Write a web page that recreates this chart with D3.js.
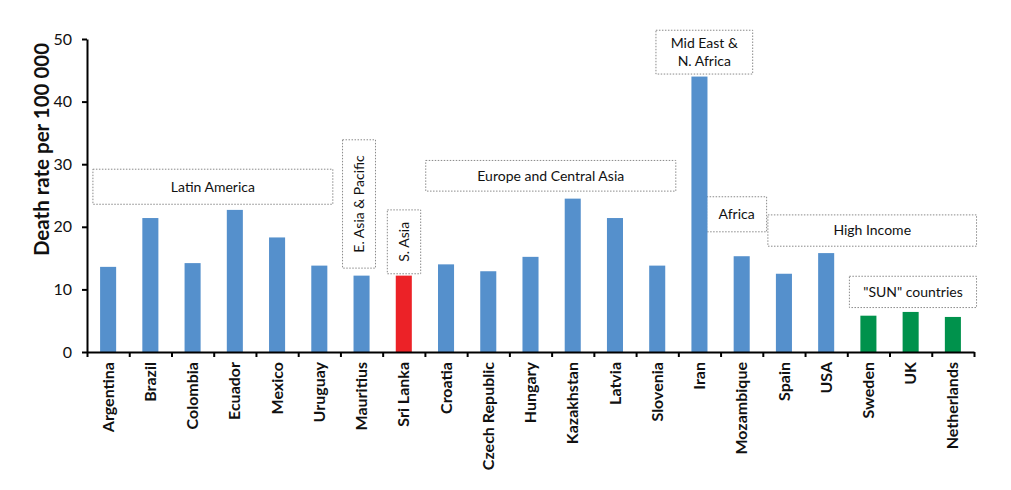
<!DOCTYPE html>
<html>
<head>
<meta charset="utf-8">
<script src="https://cdn.jsdelivr.net/npm/d3@7"></script>
<style>
  body { margin: 0; background: #fff; }
  svg { display: block; font-family: Lato, "Open Sans", sans-serif; }
</style>
</head>
<body>
<div id="chart"></div>
<script>
// data
var countries = ["Argentina", "Brazil", "Colombia", "Ecuador", "Mexico", "Uruguay", "Mauritius",
  "Sri Lanka", "Croatia", "Czech Republic", "Hungary", "Kazakhstan", "Latvia", "Slovenia",
  "Iran", "Mozambique", "Spain", "USA", "Sweden", "UK", "Netherlands"];
var deathRates = [13.6, 21.4, 14.2, 22.7, 18.3, 13.8, 12.2,
  12.2, 14.0, 12.9, 15.2, 24.5, 21.4, 13.8,
  44.0, 15.3, 12.5, 15.8, 5.8, 6.4, 5.6];
// which bars are highlighted
var barGroup = ["base", "base", "base", "base", "base", "base", "base",
  "sriLanka", "base", "base", "base", "base", "base", "base",
  "base", "base", "base", "base", "sun", "sun", "sun"];
var yTicks = [0, 10, 20, 30, 40, 50];

// region labels, in category index / value units
var regionNames = [["Latin America"], ["E. Asia & Pacific"], ["S. Asia"], ["Europe and Central Asia"],
  ["Mid East &", "N. Africa"], ["Africa"], ["High Income"], ["\"SUN\" countries"]];
var regionX0 = [0.14, 6.05, 7.11, 8.02, 13.47, 14.67, 16.12, 18.05];
var regionX1 = [5.82, 6.83, 7.90, 13.94, 15.76, 16.09, 21.06, 21.06];
var regionY0 = [23.6, 13.4, 12.5, 25.7, 44.4, 19.2, 16.9, 7.1];
var regionY1 = [29.2, 33.9, 22.7, 30.6, 51.4, 24.8, 21.9, 12.1];
var regionVertical = [false, true, true, false, false, false, false, false];

var barColor = { base: "#5590cc", sriLanka: "#ec2227", sun: "#00924c" };

var width = 1011, height = 490;
var plotLeft = 87, plotRight = 974, plotTop = 39, plotBottom = 352;

var svg = d3.select("#chart").append("svg")
  .attr("width", width)
  .attr("height", height);

var x = d3.scaleBand()
  .domain(countries)
  .range([plotLeft, plotRight])
  .paddingInner(0.62)
  .paddingOuter(0.31);

// boundaries between categories (for tick marks and region boxes)
var xb = d3.scaleLinear()
  .domain([0, countries.length])
  .range([plotLeft, plotRight]);

var y = d3.scaleLinear()
  .domain([0, 50])
  .range([plotBottom, plotTop]);

var data = countries.map(function(c, i) {
  return { country: c, value: deathRates[i], group: barGroup[i] };
});

var regions = regionNames.map(function(n, i) {
  return { lines: n, x0: regionX0[i], x1: regionX1[i], y0: regionY0[i], y1: regionY1[i], vertical: regionVertical[i] };
});

// region boxes (drawn under the bars)
var reg = svg.append("g").selectAll("g")
  .data(regions)
  .enter()
  .append("g");

reg.append("rect")
  .attr("x", function(d) { return xb(d.x0); })
  .attr("y", function(d) { return y(d.y1); })
  .attr("width", function(d) { return xb(d.x1) - xb(d.x0); })
  .attr("height", function(d) { return y(d.y0) - y(d.y1); })
  .attr("fill", "#fff")
  .attr("stroke", "#8a8a8a")
  .attr("stroke-width", 1)
  .attr("stroke-dasharray", "1.5,1.5");

reg.append("text")
  .attr("transform", function(d) {
    var cx = (xb(d.x0) + xb(d.x1)) / 2;
    var cy = (y(d.y0) + y(d.y1)) / 2;
    return "translate(" + cx + "," + cy + ")" + (d.vertical ? " rotate(-90)" : "");
  })
  .attr("text-anchor", "middle")
  .style("font-size", "14px")
  .attr("fill", "#111")
  .each(function(d) {
    var t = d3.select(this);
    var n = d.lines.length;
    d.lines.forEach(function(line, k) {
      t.append("tspan")
        .attr("x", 0)
        .attr("y", (k - (n - 1) / 2) * 17.6)
        .attr("dy", "0.35em")
        .text(line);
    });
  });

// bars
svg.append("g").selectAll("rect")
  .data(data)
  .enter()
  .append("rect")
  .attr("x", function(d) { return x(d.country); })
  .attr("y", function(d) { return y(d.value); })
  .attr("width", x.bandwidth())
  .attr("height", function(d) { return plotBottom - y(d.value); })
  .attr("fill", function(d) { return barColor[d.group]; });

// y axis
var yAxis = svg.append("g")
  .attr("transform", "translate(" + plotLeft + ",0)")
  .call(d3.axisLeft(y).tickValues(yTicks).tickSize(5).tickSizeOuter(0).tickPadding(10));
yAxis.select(".domain").attr("stroke", "#000").attr("stroke-width", 2);
yAxis.selectAll(".tick line").attr("stroke", "#000").attr("stroke-width", 2);
yAxis.selectAll(".tick text")
  .style("font-family", "Lato, sans-serif")
  .style("font-size", "16px")
  .attr("fill", "#111");

// x axis line and boundary ticks
var xAxis = svg.append("g")
  .attr("transform", "translate(0," + plotBottom + ")")
  .call(d3.axisBottom(xb).tickValues(d3.range(countries.length + 1)).tickSize(5).tickSizeOuter(0).tickFormat(""));
xAxis.select(".domain").attr("stroke", "#000").attr("stroke-width", 2);
xAxis.selectAll(".tick line").attr("stroke", "#000").attr("stroke-width", 2);

// category labels
svg.append("g").selectAll("text")
  .data(countries)
  .enter()
  .append("text")
  .attr("transform", function(d) {
    return "translate(" + (x(d) + x.bandwidth() / 2) + "," + (plotBottom + 10) + ") rotate(-90)";
  })
  .attr("text-anchor", "end")
  .attr("dy", "0.35em")
  .style("font-size", "16px")
  .style("font-weight", "bold")
  .attr("fill", "#111")
  .text(function(d) { return d; });

// y axis title
svg.append("text")
  .attr("transform", "translate(42," + ((plotTop + plotBottom) / 2 - 46) + ") rotate(-90)")
  .attr("text-anchor", "middle")
  .attr("dy", "0.35em")
  .style("font-size", "20.5px")
  .style("font-weight", "bold")
  .attr("fill", "#111")
  .text("Death rate per 100 000");
</script>
</body>
</html>
